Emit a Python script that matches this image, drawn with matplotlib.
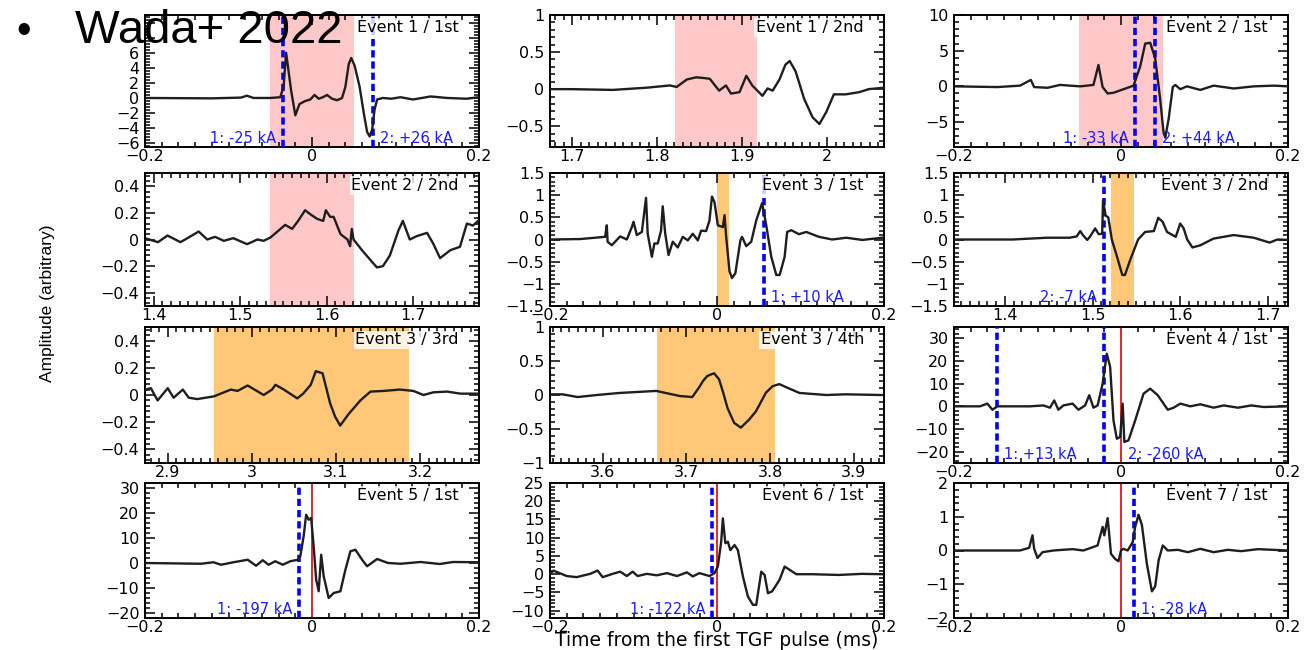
import matplotlib
matplotlib.use("Agg")
import matplotlib.pyplot as plt
from matplotlib.ticker import MultipleLocator, AutoMinorLocator, FuncFormatter

# waveforms: time (ms) and amplitude (arbitrary), one pair per panel
e1a_t = [-0.2, -0.12, -0.085, -0.078, -0.07, -0.05, -0.038, -0.034, -0.031, -0.028, -0.025, -0.020, -0.015,
         -0.008, -0.002, 0.003, 0.008, 0.013, 0.018, 0.024, 0.030, 0.036, 0.040, 0.044, 0.047, 0.051, 0.057,
         0.062, 0.066, 0.069, 0.072, 0.075, 0.078, 0.085, 0.095, 0.106, 0.121, 0.142, 0.162, 0.185, 0.2]
e1a_v = [0, -0.05, 0.05, 0.3, 0.0, 0.0, 0.1, 1.5, 6.0, 3.5, 1.0, -2.3, -0.8,
         -0.4, -0.2, 0.4, -0.1, 0.1, 0.4, -0.1, -0.3, 0.0, 1.5, 4.5, 5.3, 4.3, 1.5,
         -2.0, -4.5, -5.1, -4.2, -1.5, -0.2, 0.0, -0.1, 0.1, -0.2, 0.2, 0.0, -0.1, 0.1]

e1b_t = [1.674, 1.70, 1.748, 1.788, 1.815, 1.823, 1.835, 1.846, 1.855, 1.862, 1.873, 1.881, 1.887, 1.897,
         1.905, 1.912, 1.924, 1.930, 1.936, 1.944, 1.951, 1.956, 1.963, 1.973, 1.983, 1.991, 1.999, 2.008,
         2.022, 2.038, 2.049, 2.067]
e1b_v = [0.0, 0.0, -0.01, 0.02, 0.05, 0.03, 0.13, 0.16, 0.15, 0.14, -0.02, 0.05, -0.06, -0.04,
         0.18, 0.05, -0.09, 0.01, -0.02, 0.13, 0.33, 0.38, 0.24, -0.13, -0.38, -0.47, -0.31, -0.07,
         -0.07, -0.04, 0.0, 0.02]

e2a_t = [-0.2, -0.148, -0.121, -0.108, -0.104, -0.088, -0.073, -0.049, -0.033, -0.027, -0.022, -0.016,
         -0.009, 0.003, 0.015, 0.023, 0.029, 0.035, 0.041, 0.047, 0.051, 0.053, 0.057, 0.062, 0.065,
         0.071, 0.079, 0.095, 0.111, 0.135, 0.159, 0.183, 0.2]
e2a_v = [0.0, -0.1, 0.1, 0.9, -0.1, -0.2, 0.2, 0.0, 0.2, 3.0, -0.1, -1.0,
         -0.9, -0.4, 0.1, 2.8, 6.0, 6.1, 3.9, -1.9, -6.5, -7.2, -4.6, -0.1, 0.2,
         -0.4, 0.0, -0.5, 0.1, -0.3, 0.0, 0.1, 0.0]

e2b_t = [1.39, 1.405, 1.416, 1.431, 1.443, 1.452, 1.462, 1.471, 1.481, 1.492, 1.508, 1.520, 1.527, 1.535,
         1.552, 1.560, 1.567, 1.575, 1.581, 1.589, 1.596, 1.599, 1.604, 1.608, 1.616, 1.624, 1.627, 1.629,
         1.631, 1.642, 1.650, 1.658, 1.665, 1.673, 1.683, 1.688, 1.696, 1.704, 1.716, 1.723, 1.731, 1.743,
         1.754, 1.762, 1.769, 1.775]
e2b_v = [0.01, -0.02, 0.03, -0.02, 0.025, 0.06, 0.0, 0.02, -0.01, 0.01, -0.035, 0.0, -0.01, 0.015,
         0.11, 0.08, 0.14, 0.22, 0.19, 0.155, 0.14, 0.22, 0.17, 0.17, 0.04, 0.0, -0.05, 0.08,
         0.0, -0.09, -0.15, -0.21, -0.20, -0.12, 0.07, 0.14, 0.0, 0.025, 0.05, -0.03, -0.14, -0.08,
         -0.055, 0.12, 0.105, 0.14]

e3a_t = [-0.2, -0.164, -0.140, -0.134, -0.132, -0.131, -0.126, -0.116, -0.108, -0.102, -0.100, -0.096,
         -0.090, -0.085, -0.083, -0.078, -0.075, -0.071, -0.067, -0.065, -0.062, -0.058, -0.053, -0.047,
         -0.041, -0.035, -0.029, -0.023, -0.019, -0.013, -0.009, -0.006, -0.003, 0.001, 0.007, 0.009,
         0.011, 0.015, 0.018, 0.022, 0.028, 0.030, 0.035, 0.041, 0.047, 0.054, 0.059, 0.065, 0.071,
         0.075, 0.081, 0.084, 0.089, 0.098, 0.107, 0.122, 0.138, 0.155, 0.174, 0.198]
e3a_v = [0.0, 0.01, 0.05, 0.06, 0.32, -0.05, -0.13, 0.07, 0.0, 0.28, 0.40, 0.10,
         0.17, 0.94, 0.13, -0.39, -0.09, -0.09, 0.20, 0.75, 0.13, -0.35, -0.05, -0.18,
         0.06, -0.02, 0.13, -0.02, 0.20, 0.19, 0.43, 0.97, 0.84, 0.32, 0.28, 0.55,
         0.06, -0.72, -0.87, -0.76, -0.02, 0.06, -0.15, -0.05, 0.43, 0.82, 0.32, -0.39, -0.80,
         -0.80, -0.39, 0.17, 0.21, 0.12, 0.17, 0.06, 0.0, 0.04, -0.01, 0.04]

e3b_t = [1.342, 1.409, 1.448, 1.474, 1.482, 1.486, 1.489, 1.494, 1.497, 1.503, 1.507, 1.511, 1.512, 1.515,
         1.518, 1.522, 1.528, 1.534, 1.537, 1.543, 1.552, 1.560, 1.570, 1.575, 1.580, 1.585, 1.595, 1.600,
         1.604, 1.608, 1.614, 1.623, 1.638, 1.661, 1.684, 1.702, 1.711, 1.724]
e3b_v = [0.0, 0.0, 0.04, 0.04, 0.07, 0.19, 0.10, -0.01, 0.06, 0.25, 0.12, 0.13, 0.88, 0.54,
         0.50, 0.0, -0.39, -0.80, -0.80, -0.46, 0.0, 0.17, 0.19, 0.49, 0.40, 0.17, 0.06, 0.36,
         0.25, 0.0, -0.18, -0.13, 0.02, 0.10, 0.04, -0.07, 0.0, -0.01]

e3c_t = [2.874, 2.880, 2.888, 2.900, 2.907, 2.918, 2.925, 2.935, 2.955, 2.975, 2.983, 2.995, 3.014, 3.024,
         3.028, 3.038, 3.054, 3.061, 3.070, 3.076, 3.084, 3.093, 3.099, 3.105, 3.115, 3.129, 3.141, 3.157,
         3.176, 3.192, 3.204, 3.216, 3.232, 3.248, 3.269]
e3c_v = [0.04, 0.05, -0.04, 0.05, -0.02, 0.04, -0.02, -0.03, -0.01, 0.04, 0.03, 0.07, 0.0, 0.04,
         0.075, 0.04, -0.025, 0.01, 0.075, 0.175, 0.16, -0.06, -0.16, -0.225, -0.14, -0.04, 0.025, 0.03,
         0.04, 0.03, 0.0, 0.02, 0.025, 0.01, 0.01]

e3d_t = [3.537, 3.552, 3.570, 3.593, 3.620, 3.664, 3.692, 3.707, 3.715, 3.720, 3.725, 3.733, 3.739, 3.744,
         3.749, 3.757, 3.765, 3.775, 3.783, 3.795, 3.803, 3.811, 3.820, 3.835, 3.867, 3.890, 3.933]
e3d_v = [0.01, 0.01, -0.03, 0.0, 0.03, 0.06, -0.015, -0.03, 0.11, 0.21, 0.28, 0.32, 0.23, 0.03,
         -0.19, -0.41, -0.48, -0.36, -0.24, 0.035, 0.13, 0.16, 0.11, 0.03, 0.0, 0.01, 0.0]

e4a_t = [-0.2, -0.169, -0.160, -0.154, -0.148, -0.109, -0.093, -0.085, -0.080, -0.075, -0.069, -0.058,
         -0.051, -0.043, -0.038, -0.033, -0.028, -0.022, -0.017, -0.013, -0.009, -0.005, -0.001, 0.002,
         0.004, 0.009, 0.017, 0.027, 0.035, 0.044, 0.056, 0.063, 0.071, 0.083, 0.095, 0.111, 0.123,
         0.140, 0.156, 0.171, 0.2]
e4a_v = [0.0, 0.0, 1.2, -1.5, 0.0, 0.0, 0.4, -0.6, 2.6, -1.5, 0.4, 1.2,
         -1.5, 0.4, 4.9, -0.6, 0.4, 10.0, 23.2, 17.4, -6.2, -14.3, -13.5, 1.2,
         -15.7, -15.0, -6.2, 5.6, 7.8, 4.9, -1.5, -0.6, 1.2, 0.0, 0.9, -0.6, 0.4,
         -0.6, 0.4, -0.3, 0.0]

e5a_t = [-0.2, -0.133, -0.118, -0.109, -0.094, -0.077, -0.067, -0.059, -0.052, -0.044, -0.035, -0.026,
         -0.017, -0.014, -0.010, -0.007, -0.004, -0.001, 0.002, 0.005, 0.008, 0.011, 0.014, 0.020, 0.026,
         0.034, 0.040, 0.046, 0.052, 0.060, 0.066, 0.078, 0.091, 0.106, 0.130, 0.153, 0.169, 0.199]
e5a_v = [0.0, -0.3, 0.3, -0.7, 0.3, 1.3, -1.1, 1.1, -0.7, 0.7, -0.7, 0.7,
         1.3, 2.7, 10.7, 19.3, 17.3, 18.0, 6.7, -6.7, -11.3, 3.3, -5.3, -14.0, -12.0,
         -11.3, -2.7, 4.7, 5.3, 1.3, -1.3, 1.6, 0.0, -0.3, 0.4, -0.4, 0.4, 0.3]

e6a_t = [-0.2, -0.196, -0.180, -0.168, -0.152, -0.143, -0.137, -0.125, -0.116, -0.108, -0.101, -0.095,
         -0.084, -0.072, -0.060, -0.048, -0.036, -0.029, -0.021, -0.009, -0.003, 0.001, 0.005, 0.007,
         0.010, 0.013, 0.016, 0.021, 0.025, 0.031, 0.037, 0.043, 0.047, 0.053, 0.057, 0.061, 0.066,
         0.075, 0.081, 0.087, 0.095, 0.114, 0.146, 0.174, 0.198]
e6a_v = [0.0, 1.0, -0.5, -0.8, 0.1, 1.0, -0.8, 0.1, 0.7, -0.5, 0.7, -0.5,
         0.1, -0.3, 0.3, -0.5, 0.5, -0.6, 0.3, -0.5, 0.3, 2.1, 8.9, 15.3,
         8.5, 8.9, 6.6, 8.0, 6.6, -0.6, -6.1, -8.4, -8.4, 0.7, -0.2, -5.2, -4.7,
         -1.5, 2.1, 1.2, 0.0, 0.0, -0.2, 0.1, 0.0]

e7a_t = [-0.2, -0.121, -0.110, -0.106, -0.104, -0.100, -0.094, -0.081, -0.070, -0.058, -0.045, -0.028,
         -0.022, -0.020, -0.016, -0.014, -0.012, -0.007, -0.003, 0.0, 0.003, 0.008, 0.014, 0.017, 0.021,
         0.025, 0.031, 0.037, 0.041, 0.045, 0.050, 0.056, 0.068, 0.080, 0.095, 0.111, 0.128, 0.144,
         0.164, 0.2]
e7a_v = [0.0, 0.0, 0.08, 0.45, 0.05, -0.22, -0.05, 0.0, 0.02, 0.04, 0.0, 0.15,
         0.70, 0.45, 0.96, 0.45, -0.10, -0.25, -0.32, 0.0, 0.05, 0.0, 0.25, 0.70, 1.06,
         0.76, -0.40, -1.21, -1.06, -0.30, 0.15, 0.0, 0.02, -0.05, 0.05, -0.05, 0.02, -0.02,
         0.04, 0.0]

# panel titles, axis ranges and tick steps
titles = ["Event 1 / 1st", "Event 1 / 2nd", "Event 2 / 1st",
          "Event 2 / 2nd", "Event 3 / 1st", "Event 3 / 2nd",
          "Event 3 / 3rd", "Event 3 / 4th", "Event 4 / 1st",
          "Event 5 / 1st", "Event 6 / 1st", "Event 7 / 1st"]
xlims = [(-0.2, 0.2), (1.674, 2.067), (-0.2, 0.2),
         (1.39, 1.776), (-0.2, 0.2), (1.342, 1.723),
         (2.873, 3.270), (3.537, 3.936), (-0.2, 0.2),
         (-0.2, 0.2), (-0.2, 0.2), (-0.2, 0.2)]
ylims = [(-6.5, 11), (-0.78, 1), (-8.5, 10),
         (-0.5, 0.5), (-1.5, 1.5), (-1.5, 1.5),
         (-0.5, 0.5), (-1, 1), (-25, 35),
         (-22, 32), (-12, 25), (-2, 2)]
xmajor = [0.2, 0.1, 0.2, 0.1, 0.2, 0.1, 0.1, 0.1, 0.2, 0.2, 0.2, 0.2]
ymajor = [2, 0.5, 5, 0.2, 0.5, 0.5, 0.2, 0.5, 10, 10, 5, 1]
# highest labelled y tick (labels above it sit under the slide heading)
ylabel_max = [6, None, None, None, None, None, None, None, None, None, None, None]

# shaded TGF windows (start, end, kind)
spans = [(-0.05, 0.05, "p"), (1.821, 1.918, "p"), (-0.05, 0.05, "p"),
         (1.534, 1.632, "p"), (0.0, 0.014, "o"), (1.521, 1.547, "o"),
         (2.955, 3.187, "o"), (3.665, 3.806, "o"), None,
         None, None, None]

# dotted lines = lightning strokes, solid red = TGF onset
strokes = [[-0.035, 0.073], [], [0.017, 0.041],
           [], [0.056], [1.513],
           [], [], [-0.148, -0.020],
           [-0.015], [-0.0055], [0.016]]
onsets = [None, None, None, None, None, None, None, None, 0.0, 0.0, 0.0, 0.0]
# (anchor x, text, side of anchor)
stroke_labels = [[(-0.035, "1: -25 kA", "l"), (0.073, "2: +26 kA", "r")], [],
                 [(0.017, "1: -33 kA", "l"), (0.041, "2: +44 kA", "r")],
                 [], [(0.056, "1: +10 kA", "r")], [(1.513, "2: -7 kA", "l")],
                 [], [], [(-0.148, "1: +13 kA", "r"), (0.0, "2: -260 kA", "r")],
                 [(-0.015, "1: -197 kA", "l")], [(-0.0055, "1: -122 kA", "l")],
                 [(0.016, "1: -28 kA", "r")]]

waves = [(e1a_t, e1a_v), (e1b_t, e1b_v), (e2a_t, e2a_v),
         (e2b_t, e2b_v), (e3a_t, e3a_v), (e3b_t, e3b_v),
         (e3c_t, e3c_v), (e3d_t, e3d_v), (e4a_t, e4a_v),
         (e5a_t, e5a_v), (e6a_t, e6a_v), (e7a_t, e7a_v)]

plt.rcParams["font.family"] = "DejaVu Sans"
W, H = 1311, 650
fig = plt.figure(figsize=(W / 100, H / 100), dpi=100)

col_x = [145, 550, 954]
ax_w = 334
row_top = [15, 173, 327, 483]
row_bot = [147, 306, 463, 618]
shade = {"p": "#ffc8c8", "o": "#ffc778"}


def make_fmt(vmax):
    def fmt(v, _):
        if vmax is not None and v > vmax + 1e-9:
            return ""
        s = "%g" % round(v, 6)
        if s == "-0":
            s = "0"
        return s.replace("-", "\u2212")
    return fmt


for i in range(12):
    r, c = divmod(i, 3)
    ax = fig.add_axes([col_x[c] / W, 1 - row_bot[r] / H, ax_w / W, (row_bot[r] - row_top[r]) / H])
    t, v = waves[i]
    if spans[i] is not None:
        a, b, k = spans[i]
        ax.axvspan(a, b, color=shade[k], lw=0, zorder=0)
    for x in strokes[i]:
        ax.axvline(x, color="#0000ff", lw=2.6, ls=(0, (2, 1.1)), zorder=3)
    if onsets[i] is not None:
        ax.axvline(onsets[i], color="#e8282b", lw=1.4, zorder=2)
    ax.plot(t, v, color="#1e1e1e", lw=1.7, zorder=4, solid_joinstyle="round")
    for x, txt, side in stroke_labels[i]:
        ax.annotate(txt, xy=(x, 0), xycoords=("data", "axes fraction"),
                    xytext=(-5 if side == "l" else 5, 1), textcoords="offset points",
                    ha="right" if side == "l" else "left", va="bottom",
                    color="#1a1aff", fontsize=10.5, zorder=6)
    ax.text(0.94, 0.905, titles[i], transform=ax.transAxes, ha="right", va="center",
            fontsize=11.5, zorder=7,
            bbox=dict(boxstyle="square,pad=0.12", fc="white", ec="none", alpha=0.8))
    ax.set_xlim(*xlims[i])
    ax.set_ylim(*ylims[i])
    ax.xaxis.set_major_locator(MultipleLocator(xmajor[i]))
    ax.xaxis.set_minor_locator(MultipleLocator(xmajor[i] / 10))
    ax.yaxis.set_major_locator(MultipleLocator(ymajor[i]))
    ax.yaxis.set_minor_locator(AutoMinorLocator(5))
    ax.xaxis.set_major_formatter(FuncFormatter(make_fmt(None)))
    ax.yaxis.set_major_formatter(FuncFormatter(make_fmt(ylabel_max[i])))
    ax.tick_params(which="both", direction="in", top=True, right=True, labelsize=11.5,
                   width=1.1, colors="black")
    ax.tick_params(which="major", length=7)
    ax.tick_params(axis="x", which="major", pad=1.5)
    ax.tick_params(axis="y", which="major", pad=4)
    ax.tick_params(which="minor", length=3.5)
    for s in ax.spines.values():
        s.set_linewidth(1.4)

fig.text(48 / W, 1 - 303 / H, "Amplitude (arbitrary)", rotation=90, ha="center", va="center",
         fontsize=12.5, family=["Liberation Sans Narrow", "Liberation Sans"])
fig.text(717 / W, 1 - 646.5 / H, "Time from the first TGF pulse (ms)", ha="center", va="baseline",
         fontsize=13.5)
fig.text(16 / W, 1 - 43 / H, "\u2022", fontsize=30, family="Liberation Sans", va="baseline", zorder=10)
fig.text(75 / W, 1 - 43 / H, "Wada+ 2022", fontsize=34, family="Liberation Sans", va="baseline",
         zorder=10)

fig.savefig("out.png", dpi=100)
